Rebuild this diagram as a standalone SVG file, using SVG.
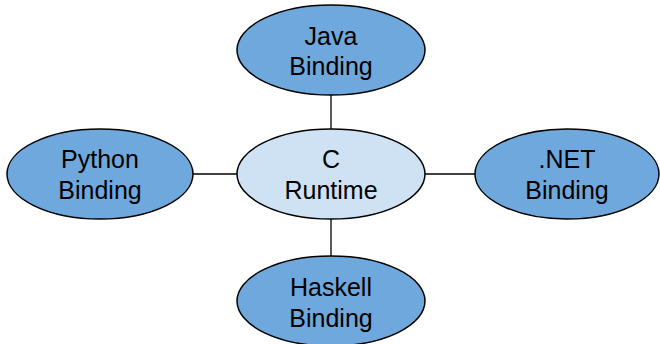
<svg xmlns="http://www.w3.org/2000/svg" width="660" height="344" viewBox="0 0 660 344">
  <style>
    .bind { fill: #6fa8dc; stroke: #000; stroke-width: 1.5; }
    .core { fill: #cfe2f3; stroke: #000; stroke-width: 1.5; }
    .label { font-family: "Liberation Sans", Arial, sans-serif; font-size: 25px; fill: #000; text-anchor: middle; }
    .link { stroke: #000; stroke-width: 1.3; fill: none; }
  </style>
  <rect width="660" height="344" fill="#fff"/>
  <g id="connectors">
    <line class="link" x1="331" y1="95" x2="331" y2="129"/>
    <line class="link" x1="193" y1="174" x2="237" y2="174"/>
    <line class="link" x1="425" y1="174" x2="475" y2="174"/>
    <line class="link" x1="331" y1="219" x2="331" y2="256"/>
  </g>
  <g id="java">
    <ellipse class="bind" cx="331" cy="50" rx="94" ry="45"/>
    <text class="label" x="331" y="45">Java</text>
    <text class="label" x="331" y="75">Binding</text>
  </g>
  <g id="runtime">
    <ellipse class="core" cx="331" cy="174" rx="94" ry="45"/>
    <text class="label" x="331" y="168">C</text>
    <text class="label" x="331" y="199">Runtime</text>
  </g>
  <g id="python">
    <ellipse class="bind" cx="100" cy="174" rx="93" ry="45"/>
    <text class="label" x="100" y="168">Python</text>
    <text class="label" x="100" y="199">Binding</text>
  </g>
  <g id="dotnet">
    <ellipse class="bind" cx="567" cy="174" rx="92" ry="45"/>
    <text class="label" x="567" y="168">.NET</text>
    <text class="label" x="567" y="199">Binding</text>
  </g>
  <g id="haskell">
    <ellipse class="bind" cx="331" cy="301" rx="94" ry="45"/>
    <text class="label" x="331" y="296">Haskell</text>
    <text class="label" x="331" y="327">Binding</text>
  </g>
</svg>
